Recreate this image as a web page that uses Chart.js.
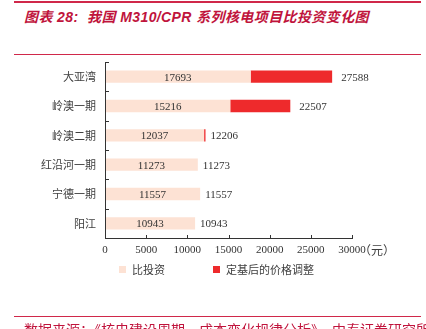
<!DOCTYPE html>
<html>
<head>
<meta charset="utf-8">
<script src="https://cdn.jsdelivr.net/npm/chart.js@4/dist/chart.umd.min.js"></script>
<style>
  html, body { margin: 0; padding: 0; background: #fff; }
  body { width: 426px; height: 329px; position: relative; overflow: hidden; }
  #chart { position: absolute; left: 0; top: 0; }
  .rule { position: absolute; left: 14px; width: 407px; background: #d0284a; }
  .axis { position: absolute; background: #333; }
  .title {
    position: absolute; left: 24px; top: 6px; white-space: nowrap;
    font: italic bold 14px "Liberation Sans", "Noto Sans CJK SC", sans-serif;
    color: #c0143c; letter-spacing: 0.4px;
  }
  .source {
    position: absolute; left: 24px; top: 321px; white-space: nowrap;
    font: 14px "Noto Sans CJK SC", sans-serif; color: #c0143c; line-height: 16px;
  }
  .unit {
    position: absolute; left: 359px; top: 242px;
    font: 12px "Noto Sans CJK SC", sans-serif; color: #404040; line-height: 16px;
  }
  #legend { position: absolute; top: 261px; left: 0; font: 11px "Noto Sans CJK SC", sans-serif; color: #404040; }
  .lg { position: absolute; white-space: nowrap; line-height: 16px; }
  .lg i { position: absolute; left: 0; top: 5px; width: 7px; height: 7px; }
  .lg span { position: absolute; left: 13px; top: 0; }
</style>
</head>
<body>
<div class="rule" style="top:1px;height:2px"></div>
<div class="title">图表 28:&nbsp; 我国 M310/CPR 系列核电项目比投资变化图</div>
<div class="rule" style="top:54px;height:1px"></div>
<canvas id="chart" width="426" height="329"></canvas>
<div id="axisY" class="axis"></div>
<div id="axisX" class="axis"></div>
<div class="unit">（元）</div>
<div id="legend"></div>
<div class="rule" style="top:316px;height:1px"></div>
<div class="source">数据来源：《核电建设周期、成本变化规律分析》，中泰证券研究所</div>

<script>
/* ---------- data ---------- */
const projects = ["大亚湾", "岭澳一期", "岭澳二期", "红沿河一期", "宁德一期", "阳江"];
const baseInvest = [17693, 15216, 12037, 11273, 11557, 10943];
const adjustedTotal = [27588, 22507, 12206, 11273, 11557, 10943];
const seriesNames = ["比投资", "定基后的价格调整"];
const xTicks = [0, 5000, 10000, 15000, 20000, 25000, 30000];

const priceAdjust = adjustedTotal.map((t, i) => t - baseInvest[i]);

const COLORS = ["#fde2d4", "#ee2a2c"];
const AXIS = "#333";
const NUM_FONT = '11px "Liberation Serif", "DejaVu Serif", serif';

/* ---------- plugins ---------- */

// small tick marks pointing into the plot area
const axesInward = {
  id: "axesInward",
  afterDatasetsDraw(chart) {
    const { ctx, chartArea } = chart;
    const xs = chart.scales.x;
    const ys = chart.scales.y;
    const left = Math.round(chartArea.left);
    const bottom = Math.round(chartArea.bottom);
    ctx.save();
    ctx.fillStyle = AXIS;
    xTicks.forEach(v => {
      const px = Math.round(xs.getPixelForValue(v));
      ctx.fillRect(px, bottom - 3, 1, 3);
    });
    for (let i = 0; i <= projects.length; i++) {
      const py = Math.round(ys.getPixelForValue(i - 0.5));
      ctx.fillRect(left, py, 4, 1);
    }
    ctx.restore();
  }
};

// base value inside the light bar, total just past the end of the stack
const barLabels = {
  id: "barLabels",
  afterDatasetsDraw(chart) {
    const { ctx } = chart;
    const xs = chart.scales.x;
    const meta = chart.getDatasetMeta(0);
    ctx.save();
    ctx.font = NUM_FONT;
    ctx.fillStyle = "#333";
    ctx.textBaseline = "middle";
    meta.data.forEach((bar, i) => {
      const yc = bar.y + 1;
      const x0 = xs.getPixelForValue(0);
      const x1 = xs.getPixelForValue(baseInvest[i]);
      ctx.textAlign = "center";
      ctx.fillText(String(baseInvest[i]), (x0 + x1) / 2, yc);
      const xe = xs.getPixelForValue(adjustedTotal[i]);
      ctx.textAlign = "left";
      ctx.fillText(String(adjustedTotal[i]), xe + (priceAdjust[i] > 1000 ? 9 : 5), yc);
    });
    ctx.restore();
  }
};

/* ---------- chart ---------- */

const chart = new Chart(document.getElementById("chart"), {
  type: "bar",
  data: {
    labels: projects,
    datasets: [
      { label: seriesNames[0], data: baseInvest, backgroundColor: COLORS[0] },
      { label: seriesNames[1], data: priceAdjust, backgroundColor: COLORS[1] }
    ]
  },
  options: {
    indexAxis: "y",
    responsive: false,
    animation: false,
    devicePixelRatio: 1,
    layout: { padding: { left: 0, top: 62, right: 74, bottom: 61 } },
    datasets: { bar: { categoryPercentage: 1, barPercentage: 0.42 } },
    plugins: { legend: { display: false }, tooltip: { enabled: false } },
    scales: {
      x: {
        stacked: true,
        min: 0, max: 30000,
        afterBuildTicks: s => { s.ticks = xTicks.map(v => ({ value: v })); },
        afterFit: s => { s.height = 30; },
        grid: { display: false, drawTicks: false },
        border: { display: false },
        ticks: {
          padding: 6, color: "#333", maxRotation: 0,
          font: { family: '"Liberation Serif", serif', size: 11 },
          callback: v => String(v)
        }
      },
      y: {
        stacked: true,
        afterFit: s => { s.width = 105; },
        grid: { display: false, drawTicks: false },
        border: { display: false },
        ticks: { padding: 9, color: "#404040", font: { family: '"Noto Sans CJK SC", sans-serif', size: 11 } }
      }
    }
  },
  plugins: [axesInward, barLabels]
});

/* ---------- axis lines, placed on the chart area edges ---------- */
const area = chart.chartArea;
const ax = Math.round(area.left), ay = Math.round(area.top), ab = Math.round(area.bottom);
Object.assign(document.getElementById("axisY").style, {
  left: ax + "px", top: ay + "px", width: "1px", height: (ab - ay + 1) + "px"
});
Object.assign(document.getElementById("axisX").style, {
  left: ax + "px", top: ab + "px", width: (Math.round(area.right) - ax + 1) + "px", height: "1px"
});

/* ---------- legend ---------- */
const legendX = [119, 213];
const legend = document.getElementById("legend");
seriesNames.forEach((name, i) => {
  const item = document.createElement("div");
  item.className = "lg";
  item.style.left = legendX[i] + "px";
  item.innerHTML = '<i style="background:' + COLORS[i] + '"></i><span>' + name + "</span>";
  legend.appendChild(item);
});
</script>
</body>
</html>
